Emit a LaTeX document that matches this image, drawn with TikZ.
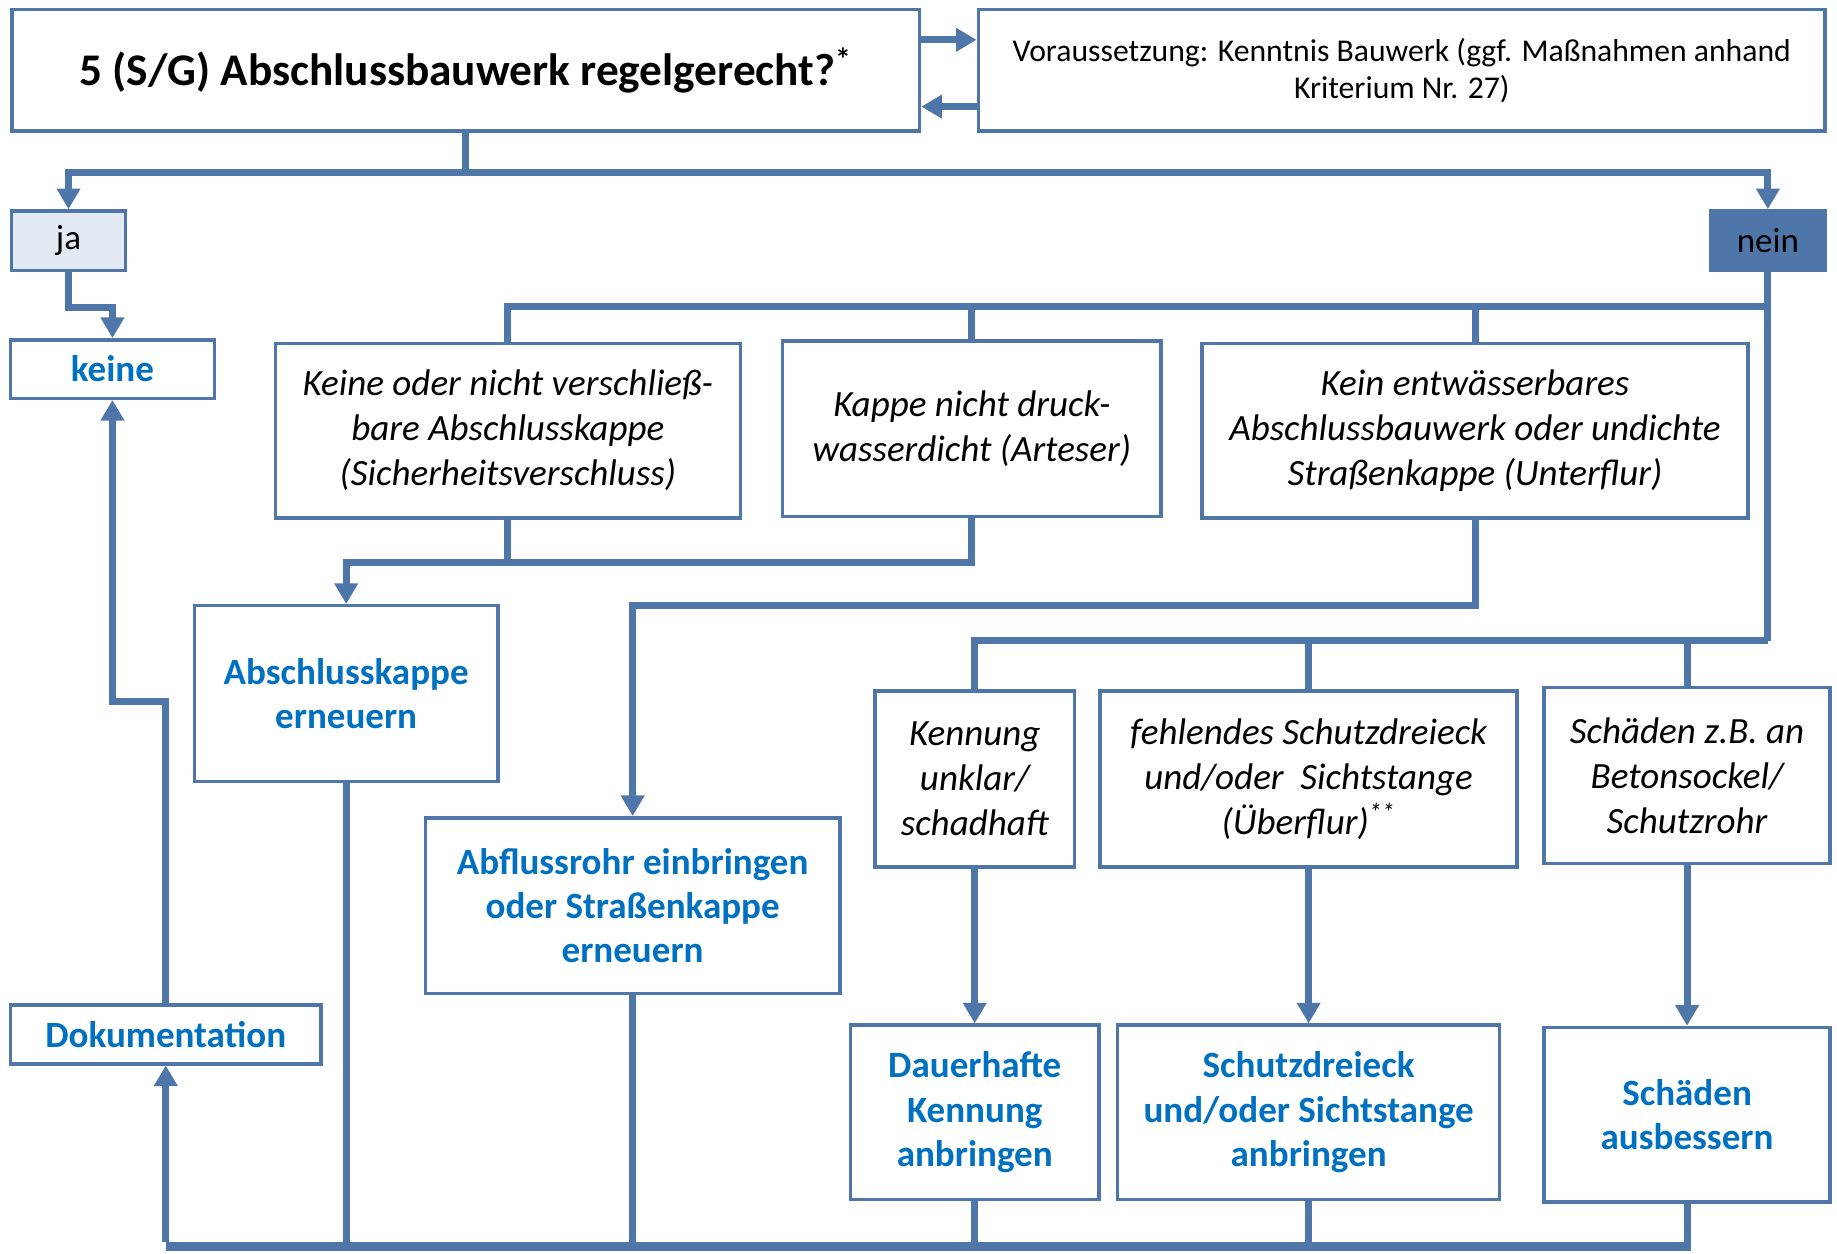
\documentclass[tikz,border=0pt]{standalone}
\usepackage{fontspec}
\setmainfont{Carlito}
\usetikzlibrary{arrows.meta}
\definecolor{lc}{HTML}{4F76A8}
\definecolor{tblue}{HTML}{0070C0}
\definecolor{jafill}{HTML}{E4EAF3}
\begin{document}
\begin{tikzpicture}[x=0.02cm,y=-0.02cm,
  box/.style={draw=lc, line width=1.7pt, fill=white, align=center, inner sep=0pt},
  qbox/.style={box, font=\fontsize{18}{21.8}\selectfont\itshape},
  actbox/.style={box, text=tblue, font=\fontsize{18}{21.6}\selectfont\bfseries},
  conn/.style={draw=lc, line width=3.4pt},
  arr/.style={-{Triangle[length=10pt,width=11pt]}}
]
\useasboundingbox (0,0) rectangle (1568,1070);

% top row
\node[box, minimum width=15.5cm, minimum height=2.08cm, font=\fontsize{22}{27}\selectfont\bfseries] (main) at (397.5,60) {5 (S/G) Abschlussbauwerk regelgerecht?\textsuperscript{*}};
\node[box, minimum width=14.46cm, minimum height=2.08cm, font=\fontsize{15.4}{18.1}\selectfont] (vor) at (1196.5,60) {Voraussetzung: Kenntnis Bauwerk (ggf. Maßnahmen anhand\\Kriterium Nr. 27)};

\node[box, fill=jafill, minimum width=1.94cm, minimum height=1.02cm, font=\fontsize{17}{20}\selectfont] (ja) at (58.5,205.5) {ja};
\node[box, fill=lc, minimum width=1.96cm, minimum height=1.02cm, font=\fontsize{17}{20}\selectfont] (nein) at (1509,205.5) {nein};

\node[actbox, minimum width=3.48cm, minimum height=1.0cm] (keine) at (96,315) {keine};

% condition row 1
\node[qbox, minimum width=7.94cm, minimum height=2.98cm] (A) at (433.5,367.5) {Keine oder nicht verschließ-\\bare Abschlusskappe\\(Sicherheitsverschluss)};
\node[qbox, minimum width=6.46cm, minimum height=3.0cm] (B) at (829.5,366) {Kappe nicht druck-\\wasserdicht (Arteser)};
\node[qbox, minimum width=9.32cm, minimum height=2.98cm] (C) at (1259,367.5) {Kein entwässerbares\\Abschlussbauwerk oder undichte\\Straßenkappe (Unterflur)};

% actions
\node[actbox, minimum width=5.18cm, minimum height=3.0cm] (AK) at (295.5,592) {Abschlusskappe\\erneuern};
\node[actbox, minimum width=7.08cm, minimum height=3.0cm] (AR) at (540,773) {Abflussrohr einbringen\\oder Straßenkappe\\erneuern};

% condition row 2
\node[qbox, minimum width=3.4cm, minimum height=3.0cm] (Ken) at (832,665) {Kennung\\unklar/\\schadhaft};
\node[qbox, minimum width=7.12cm, minimum height=3.0cm] (feh) at (1117,665) {fehlendes Schutzdreieck\\und/oder~ Sichtstange\\(Überflur)\textsuperscript{**}};
\node[qbox, minimum width=4.88cm, minimum height=3.0cm] (SchZ) at (1440,662) {Schäden z.B. an\\Betonsockel/\\Schutzrohr};

\node[actbox, minimum width=4.24cm, minimum height=2.98cm] (Dau) at (832,949.5) {Dauerhafte\\Kennung\\anbringen};
\node[actbox, minimum width=6.52cm, minimum height=2.98cm] (Sdr) at (1117,949.5) {Schutzdreieck\\und/oder Sichtstange\\anbringen};
\node[actbox, minimum width=4.88cm, minimum height=2.98cm] (Sba) at (1440,951.5) {Schäden\\ausbessern};

\node[actbox, minimum width=5.3cm, minimum height=1.0cm] (Dok) at (141.5,883) {Dokumentation};

% connectors
\draw[conn,arr] ([yshift=0.52cm]main.east) -- ([yshift=0.52cm]vor.west);
\draw[conn,arr] ([yshift=-0.62cm]vor.west) -- ([yshift=-0.62cm]main.east);

\coordinate (b1) at (397.5,147);
\draw[conn] (main.south) -- (b1);
\draw[conn,arr] (b1) -| (ja.north);
\draw[conn,arr] (b1) -| (nein.north);

\draw[conn,arr] (ja.south) -- ++(0,30) -| (keine.north);

\coordinate (n1) at (1509,262);
\coordinate (n2) at (1509,547);
\draw[conn] (nein.south) -- (n2);
\draw[conn] (n1) -| (A.north);
\draw[conn] (B.north) -- (B.north |- n1);
\draw[conn] (C.north) -- (C.north |- n1);

\coordinate (m1) at (0,480);
\draw[conn] (A.south) -- (A.south |- m1);
\draw[conn,arr] (B.south) |- (AK.north |- m1) -- (AK.north);

\draw[conn,arr] (C.south) -- ++(0,73) -| (AR.north);

\draw[conn] (n2) -| (Ken.north);
\draw[conn] (feh.north) -- (feh.north |- n2);
\draw[conn] (SchZ.north) -- (SchZ.north |- n2);

\draw[conn,arr] (Ken.south) -- (Dau.north);
\draw[conn,arr] (feh.south) -- (Sdr.north);
\draw[conn,arr] (SchZ.south) -- (Sba.north);

\coordinate (bb) at (0,1064);
\draw[conn] (Sba.south) -- (Sba.south |- bb);
\draw[conn] (Sdr.south) -- (Sdr.south |- bb);
\draw[conn] (Dau.south) -- (Dau.south |- bb);
\draw[conn] (AR.south) -- (AR.south |- bb);
\draw[conn] (AK.south) -- (AK.south |- bb);
\draw[conn, line width=4.4pt] ([xshift=1.7pt]Sba.south |- bb) -- (Dok.south |- bb);
\draw[conn,arr] ([yshift=2.2pt]Dok.south |- bb) -- (Dok.south);

\draw[conn,arr] (Dok.north) -- ++(0,-258) -| (keine.south);
\end{tikzpicture}
\end{document}
